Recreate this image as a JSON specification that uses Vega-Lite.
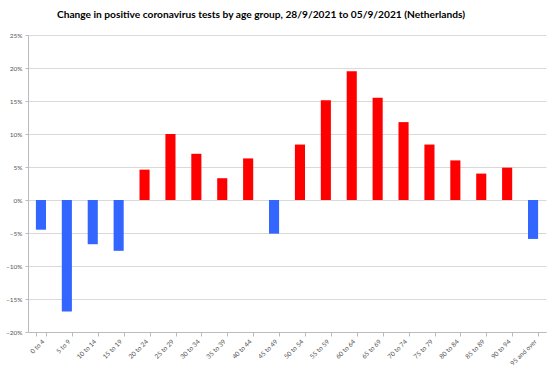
{
  "$schema": "https://vega.github.io/schema/vega-lite/v6.json",
  "width": 518,
  "height": 297,
  "autosize": {"type": "none"},
  "padding": {"left": 28, "top": 35, "right": 14, "bottom": 40},
  "background": "white",
  "title": {
    "text": "Change in positive coronavirus tests by age group, 28/9/2021 to 05/9/2021 (Netherlands)",
    "font": "Lato",
    "fontSize": 10.2,
    "fontWeight": "bold",
    "color": "#000000",
    "anchor": "middle",
    "dx": -26,
    "offset": 12
  },
  "data": {
    "values": [
      {"age": "0 to 4", "change": -0.045},
      {"age": "5 to 9", "change": -0.169},
      {"age": "10 to 14", "change": -0.067},
      {"age": "15 to 19", "change": -0.077},
      {"age": "20 to 24", "change": 0.046},
      {"age": "25 to 29", "change": 0.100},
      {"age": "30 to 34", "change": 0.070},
      {"age": "35 to 39", "change": 0.033},
      {"age": "40 to 44", "change": 0.063},
      {"age": "45 to 49", "change": -0.051},
      {"age": "50 to 54", "change": 0.084},
      {"age": "55 to 59", "change": 0.151},
      {"age": "60 to 64", "change": 0.195},
      {"age": "65 to 69", "change": 0.155},
      {"age": "70 to 74", "change": 0.118},
      {"age": "75 to 79", "change": 0.084},
      {"age": "80 to 84", "change": 0.060},
      {"age": "85 to 89", "change": 0.040},
      {"age": "90 to 94", "change": 0.049},
      {"age": "95 and over", "change": -0.059}
    ]
  },
  "mark": {"type": "bar", "strokeWidth": 0},
  "encoding": {
    "x": {
      "field": "age",
      "type": "nominal",
      "sort": null,
      "title": null,
      "scale": {"paddingInner": 0.61, "paddingOuter": 0.305},
      "axis": {
        "labelAngle": -45,
        "labelAlign": "right",
        "labelBaseline": "top",
        "labelFontSize": 6.5,
        "labelColor": "#555555",
        "labelFont": "Lato",
        "labelPadding": 2,
        "tickBand": "extent",
        "tickColor": "#bbbbbb",
        "tickSize": 4,
        "domainColor": "#bbbbbb",
        "grid": false
      }
    },
    "y": {
      "field": "change",
      "type": "quantitative",
      "title": null,
      "scale": {"domain": [-0.2, 0.25], "nice": false},
      "axis": {
        "format": ".0%",
        "values": [-0.2, -0.15, -0.1, -0.05, 0, 0.05, 0.1, 0.15, 0.2, 0.25],
        "labelFontSize": 6.5,
        "labelColor": "#555555",
        "labelFont": "Lato",
        "labelPadding": 3,
        "tickSize": 3,
        "tickColor": "#bbbbbb",
        "domainColor": "#bbbbbb",
        "gridColor": "#d9d9d9",
        "grid": true
      }
    },
    "color": {
      "condition": {"test": "datum.change < 0", "value": "#3366ff"},
      "value": "#ff0000"
    }
  },
  "config": {"view": {"stroke": null}}
}
